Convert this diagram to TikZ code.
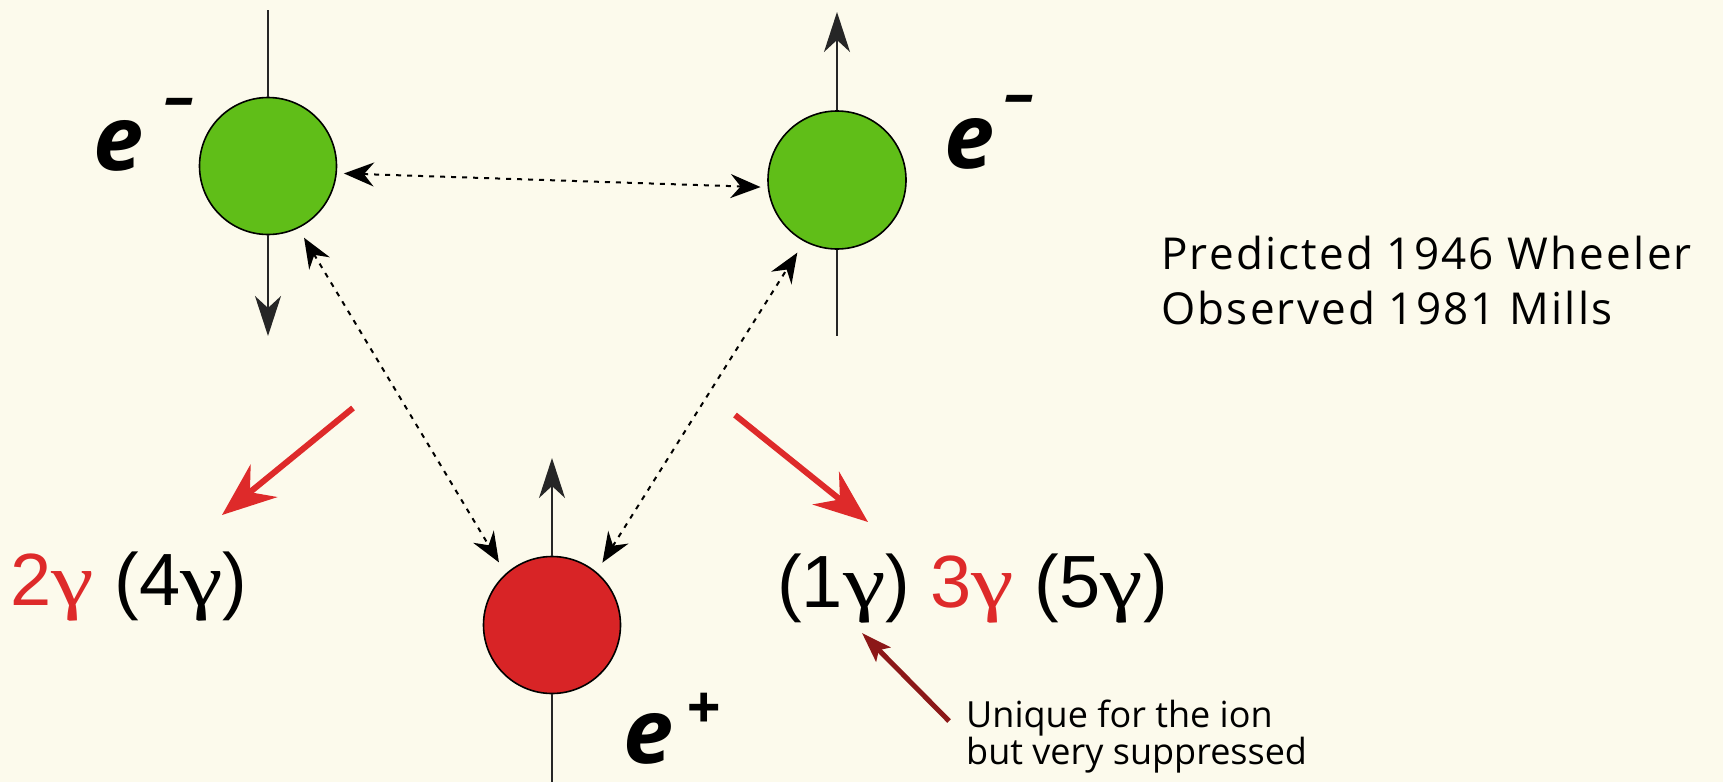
\documentclass[tikz,border=0pt]{standalone}
\usepackage{fontspec}
\setmainfont{Liberation Sans}
\newfontfamily\comicfont{Open Sans}
\newfontfamily\comicwide[LetterSpace=5]{Open Sans}
\newfontfamily\greekfont{Liberation Serif}
\usepackage{tikz}
\usepackage{graphicx}
\usepackage{xcolor}
\usetikzlibrary{arrows.meta}

\definecolor{paper}{RGB}{252,250,236}
\definecolor{electron}{RGB}{96,190,24}
\definecolor{positron}{RGB}{216,36,38}
\definecolor{decay}{RGB}{222,42,42}
\definecolor{darkarrow}{RGB}{140,24,24}

\newcommand{\gmm}{\scalebox{1.3}[1]{\greekfont γ}}

\begin{document}
\begin{tikzpicture}[x=1pt, y=-1pt,
    particle/.style={circle, draw=black, line width=1.6pt, minimum size=137pt, inner sep=0pt},
    spinline/.style={line width=1.8pt, draw=black!85},
    spinarrow/.style={spinline, -{Stealth[length=40pt, width=26pt, inset=12pt]}},
    coulomb/.style={line width=2pt, dash pattern=on 5pt off 6pt,
        {Stealth[length=30pt, width=24pt, inset=10pt]}-{Stealth[length=30pt, width=24pt, inset=10pt]}},
    annihil/.style={line width=6pt, draw=decay, -{Stealth[length=54pt, width=42pt, inset=18pt]}},
    charge/.style={font=\comicfont\bfseries\itshape\fontsize{90}{90}\selectfont, inner sep=0pt, anchor=base west},
    gammas/.style={font=\fontsize{74}{80}\selectfont, inner sep=0pt, anchor=base west},
    note/.style={inner sep=0pt, anchor=north west, align=left}]

    % Background
    \fill[paper] (0,0) rectangle (1723,782);
    \useasboundingbox (0,0) rectangle (1723,782);

    % Particles
    \node[particle, fill=electron] (eleft) at (268,166) {};
    \node[particle, fill=electron, minimum size=138pt] (eright) at (837,180) {};
    \node[particle, fill=positron] (posi) at (552,625) {};

    % Charge labels
    \node[charge] (lblleft) at (93,170)
        {e\hspace{21pt}\raisebox{52pt}{\fontsize{62}{62}\selectfont –}};
    \node[charge] (lblright) at (944,168)
        {e\hspace{10pt}\raisebox{53pt}{\fontsize{62}{62}\selectfont –}};
    \node[charge] (lblposi) at (623,763)
        {e\hspace{13pt}\raisebox{34pt}{\fontsize{62}{62}\selectfont +}};

    % Spin axes
    \coordinate (lefttop) at (268,10);
    \coordinate (leftdown) at (268,336);
    \coordinate (rightup) at (837,12);
    \coordinate (rightbot) at (837,336);
    \coordinate (posiup) at (552,458);
    \coordinate (posibot) at (552,782);
    \draw[spinline] (lefttop) -- (eleft.north);
    \draw[spinarrow] (eleft.south) -- (leftdown);
    \draw[spinarrow] (eright.north) -- (rightup);
    \draw[spinline] (eright.south) -- (rightbot);
    \draw[spinarrow] (posi.north) -- (posiup);
    \draw[spinline] (posi.south) -- (posibot);

    % Interactions
    \draw[coulomb, shorten <=7pt, shorten >=7pt] (eleft.-6) -- (eright.186);
    \draw[coulomb, shorten <=11pt, shorten >=13pt] (eleft.-64) -- (posi.132);
    \draw[coulomb, shorten <=11pt, shorten >=13pt] (posi.50) -- (eright.-118);

    % Decay products
    \node[gammas] (evenmode) at (10,605) {\textcolor{decay}{2\gmm} (4\gmm)};
    \node[gammas] (oddmode) at (777,607) {(1\gmm) \textcolor{decay}{3\gmm} (5\gmm)};
    \coordinate (evenfrom) at (353,408);
    \coordinate (evento) at (222,515);
    \coordinate (oddfrom) at (735,415);
    \coordinate (oddto) at (868,522);
    \draw[annihil] (evenfrom) -- (evento);
    \draw[annihil] (oddfrom) -- (oddto);

    % Notes
    \node[note, font=\comicwide\fontsize{44}{55}\selectfont] (history) at (1161,236)
        {Predicted 1946 Wheeler\\Observed 1981 Mills};
    \node[note, font=\comicfont\fontsize{36}{37}\selectfont] (ionnote) at (966,700)
        {Unique for the ion\\but very suppressed};
    \coordinate (ionfrom) at (949,721);
    \coordinate (ionto) at (862,633);
    \draw[line width=5pt, darkarrow, -{Stealth[length=30pt, width=20pt, inset=6pt]}] (ionfrom) -- (ionto);
\end{tikzpicture}
\end{document}
